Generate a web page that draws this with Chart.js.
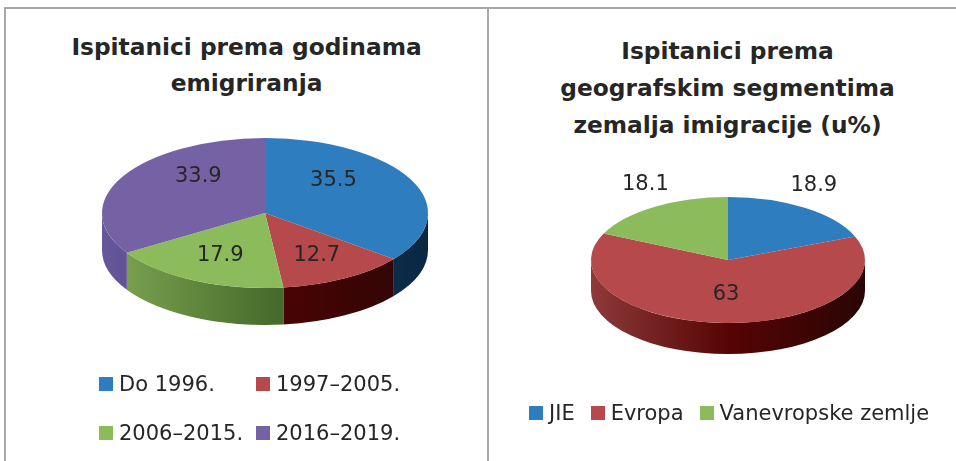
<!DOCTYPE html>
<html>
<head>
<meta charset="utf-8">
<script src="https://cdn.jsdelivr.net/npm/chart.js@4.4.1/dist/chart.umd.min.js"></script>
<style>
  html, body { margin: 0; padding: 0; background: #fff; }
  body { width: 956px; height: 461px; position: relative; overflow: hidden; font-family: "DejaVu Sans", sans-serif; color: #262626; }
  .line { position: absolute; background: #a8a8a8; }
  .title { position: absolute; text-align: center; font-weight: bold; font-size: 23.3px; white-space: nowrap; }
  canvas { position: absolute; }
  .legend { position: absolute; font-size: 21px; line-height: 20px; white-space: nowrap; }
  .legend .item { display: flex; align-items: center; }
  .legend .box { width: 14px; height: 14px; margin-right: 6px; flex: none; }
  #legL { left: 99px; top: 374px; display: grid; grid-template-columns: 157px auto; row-gap: 28.5px; }
  #legR { left: 529px; top: 403px; display: flex; column-gap: 16px; }
</style>
</head>
<body>
<div class="line" style="left:4px;top:7px;width:952px;height:2px;"></div>
<div class="line" style="left:4px;top:7px;width:2px;height:454px;"></div>
<div class="line" style="left:487px;top:7px;width:2px;height:454px;"></div>

<div class="title" id="titleL" style="left:6px;top:29px;width:481px;line-height:36px;"></div>
<div class="title" id="titleR" style="left:494px;top:31.5px;width:467px;line-height:37px;"></div>

<canvas id="pieL" width="481" height="452" style="left:6px;top:9px;width:481px;height:452px;"></canvas>
<canvas id="pieR" width="467" height="452" style="left:489px;top:9px;width:467px;height:452px;"></canvas>

<div class="legend" id="legL"></div>
<div class="legend" id="legR"></div>

<script>
// ---- data ----
const leftTitle = ['Ispitanici prema godinama', 'emigriranja'];
const leftCategories = ['Do 1996.', '1997–2005.', '2006–2015.', '2016–2019.'];
const leftValues = [35.5, 12.7, 17.9, 33.9];

const rightTitle = ['Ispitanici prema', 'geografskim segmentima', 'zemalja imigracije (u%)'];
const rightCategories = ['JIE', 'Evropa', 'Vanevropske zemlje'];
const rightValues = [18.9, 63, 18.1];

// ---- styles ----
const leftColors = ['#2E7DBE', '#B5494B', '#8CBB5C', '#7562A5'];
const leftSides = [
  ['#245f90', '#163f66', '#0a2742'],
  ['#8a3434', '#4e0303', '#2c0606'],
  ['#80a853', '#4a6e2e', '#2f4a1c'],
  ['#66579a', '#4a3c78', '#2e2450']
];
const rightColors = ['#2E7DBE', '#B5494B', '#8CBB5C'];
const rightSides = [
  ['#245f90', '#163f66', '#0a2742'],
  ['#8e3a3a', '#560404', '#2a0505'],
  ['#80a853', '#4a6e2e', '#2f4a1c']
];

function fillTitle(id, lines) {
  const el = document.getElementById(id);
  lines.forEach(t => { const d = document.createElement('div'); d.textContent = t; el.appendChild(d); });
}
fillTitle('titleL', leftTitle);
fillTitle('titleR', rightTitle);

function fillLegend(id, cats, colors) {
  const el = document.getElementById(id);
  cats.forEach((c, i) => {
    const it = document.createElement('div'); it.className = 'item';
    const b = document.createElement('span'); b.className = 'box'; b.style.background = colors[i];
    const t = document.createElement('span'); t.textContent = c;
    it.appendChild(b); it.appendChild(t); el.appendChild(it);
  });
}
fillLegend('legL', leftCategories, leftColors);
fillLegend('legR', rightCategories, rightColors);

// ---- 3D pie plugin ----
const pie3d = {
  id: 'pie3d',
  beforeDatasetsDraw(chart, args, opts) {
    const meta = chart.getDatasetMeta(0);
    const a0 = meta.data[0];
    const cx = a0.x, cy = a0.y, r = a0.outerRadius;
    const k = opts.tilt, D = opts.depth / k;
    const ctx = chart.ctx;
    ctx.save();
    ctx.translate(cx, cy); ctx.scale(1, k); ctx.translate(-cx, -cy);
    meta.data.forEach((arc, i) => {
      const s = Math.max(arc.startAngle, 0), e = Math.min(arc.endAngle, Math.PI);
      if (e <= s) return;
      const sh = opts.sides[i];
      const g = ctx.createLinearGradient(cx - r, 0, cx + r, 0);
      g.addColorStop(0, sh[0]); g.addColorStop(0.5, sh[1]); g.addColorStop(1, sh[2]);
      ctx.beginPath();
      ctx.arc(cx, cy, r, s, e);
      ctx.arc(cx, cy + D, r, e, s, true);
      ctx.closePath();
      ctx.fillStyle = g;
      ctx.fill();
    });
  },
  afterDatasetsDraw(chart, args, opts) {
    const ctx = chart.ctx;
    ctx.restore();
    const meta = chart.getDatasetMeta(0);
    const values = chart.data.datasets[0].data;
    const a0 = meta.data[0];
    const cx = a0.x, cy = a0.y, r = a0.outerRadius, ry = r * opts.tilt;
    ctx.save();
    ctx.font = opts.font;
    ctx.fillStyle = '#262626';
    ctx.textAlign = 'center';
    ctx.textBaseline = 'middle';
    meta.data.forEach((arc, i) => {
      const mid = (arc.startAngle + arc.endAngle) / 2;
      const half = (arc.endAngle - arc.startAngle) / 2;
      const c = Math.cos(mid), s = Math.sin(mid);
      let x, y;
      if (values[i] < opts.outsideBelow) {
        x = cx + r * c * 1.12;
        y = cy + ry * s - 22;
      } else {
        const f = Math.max(2 * Math.sin(half) / (3 * half), 0.55);
        if (s < 0) { x = cx + r * c * f * 0.85; y = cy + ry * s * f * 1.8; }
        else { x = cx + r * c * f; y = cy + ry * s * f; }
      }
      ctx.fillText(String(values[i]), x, y);
    });
    ctx.restore();
  }
};

function makePie(id, cats, values, colors, sides, padding, tilt, depth, outsideBelow) {
  return new Chart(document.getElementById(id), {
    type: 'pie',
    data: { labels: cats, datasets: [{ data: values, backgroundColor: colors, borderWidth: 0, hoverOffset: 0, offset: 0 }] },
    options: {
      responsive: false, animation: false, events: [],
      layout: { padding },
      plugins: {
        legend: { display: false }, tooltip: { enabled: false }, title: { display: false },
        pie3d: { tilt, depth, sides, outsideBelow, font: '21px "DejaVu Sans"' }
      }
    },
    plugins: [pie3d]
  });
}

makePie('pieL', leftCategories, leftValues, leftColors, leftSides,
  { left: 96, right: 59, top: 41, bottom: 85 }, 0.46, 37, 0);
makePie('pieR', rightCategories, rightValues, rightColors, rightSides,
  { left: 102, right: 91, top: 114, bottom: 64 }, 0.46, 31, 20);
</script>
</body>
</html>
